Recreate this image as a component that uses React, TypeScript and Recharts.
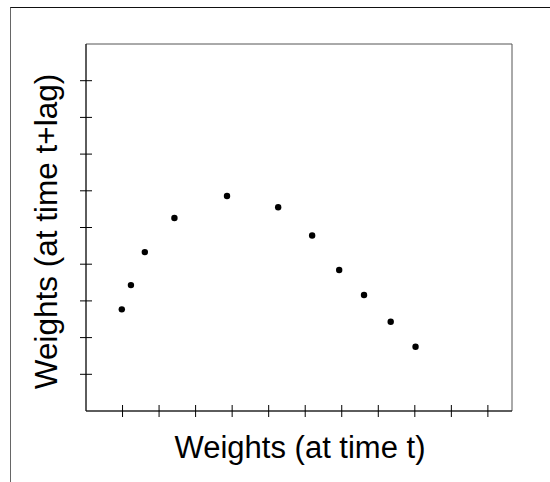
import React from "react";
import {
  ScatterChart,
  Scatter,
  XAxis,
  YAxis,
  ReferenceArea,
} from "recharts";

// weights at time t (x) vs weights at time t+lag (y), in axis tick units
const weightsT = [0.98, 1.23, 1.61, 2.42, 3.86, 5.26, 6.19, 6.93, 7.61, 8.34, 9.02];
const weightsLag = [2.77, 3.43, 4.33, 5.26, 5.86, 5.55, 4.78, 3.84, 3.16, 2.43, 1.75];

const xTicks = [1, 2, 3, 4, 5, 6, 7, 8, 9, 10, 11];
const yTicks = [1, 2, 3, 4, 5, 6, 7, 8, 9];

const xLabel = "Weights (at time t)";
const yLabel = "Weights (at time t+lag)";

const FONT = "'Liberation Sans', Arial, Helvetica, sans-serif";

const points = weightsT.map((x, i) => ({ x, y: weightsLag[i] }));

function XTick(props: any) {
  const { x, y } = props;
  return <line x1={x} x2={x} y1={y - 6} y2={y + 6} stroke="#000" strokeWidth={1} />;
}

function YTick(props: any) {
  const { x, y } = props;
  return <line x1={x - 6} x2={x + 6} y1={y} y2={y} stroke="#000" strokeWidth={1} />;
}

function Dot(props: any) {
  return <circle cx={props.cx} cy={props.cy} r={3.2} fill="#000" />;
}

export default function App() {
  return (
    <div style={{ position: "absolute", left: 0, top: 0, width: 550, height: 482, background: "#fff" }}>
      <div
        style={{
          position: "absolute",
          left: 10,
          top: 7,
          width: 560,
          height: 500,
          borderTop: "1px solid #111",
          borderLeft: "1px solid #666",
        }}
      />
      <ScatterChart
        width={550}
        height={482}
        margin={{ top: 44, right: 38, left: 0, bottom: 0 }}
        style={{ position: "absolute", left: 0, top: 0 }}
      >
        <XAxis
          type="number"
          dataKey="x"
          domain={[0, 11.66]}
          ticks={xTicks}
          height={71}
          tickSize={0}
          tickMargin={0}
          tickLine={false}
          tick={<XTick />}
          axisLine={{ stroke: "#111", strokeWidth: 1 }}
          allowDataOverflow
          label={{
            content: (p: any) => {
              const vb = p.viewBox;
              return (
                <text
                  x={vb.x + vb.width / 2 + 1}
                  y={vb.y + 47}
                  textAnchor="middle"
                  fontFamily={FONT}
                  fontSize={31}
                  fill="#000"
                >
                  {xLabel}
                </text>
              );
            },
          }}
        />
        <YAxis
          type="number"
          dataKey="y"
          domain={[0, 10]}
          ticks={yTicks}
          width={86}
          tickSize={0}
          tickMargin={0}
          tickLine={false}
          tick={<YTick />}
          axisLine={{ stroke: "#111", strokeWidth: 1 }}
          allowDataOverflow
          label={{
            content: (p: any) => {
              const vb = p.viewBox;
              const cx = 57;
              const cy = vb.y + vb.height / 2 + 4;
              return (
                <text
                  x={cx}
                  y={cy}
                  transform={`rotate(-90, ${cx}, ${cy})`}
                  textAnchor="middle"
                  fontFamily={FONT}
                  fontSize={31.5}
                  fill="#000"
                >
                  {yLabel}
                </text>
              );
            },
          }}
        />
        <ReferenceArea
          x1={0}
          x2={11.66}
          y1={0}
          y2={10}
          fill="none"
          stroke="#555"
          strokeWidth={1}
          ifOverflow="visible"
        />
        <Scatter data={points} shape={<Dot />} isAnimationActive={false} />
      </ScatterChart>
    </div>
  );
}
